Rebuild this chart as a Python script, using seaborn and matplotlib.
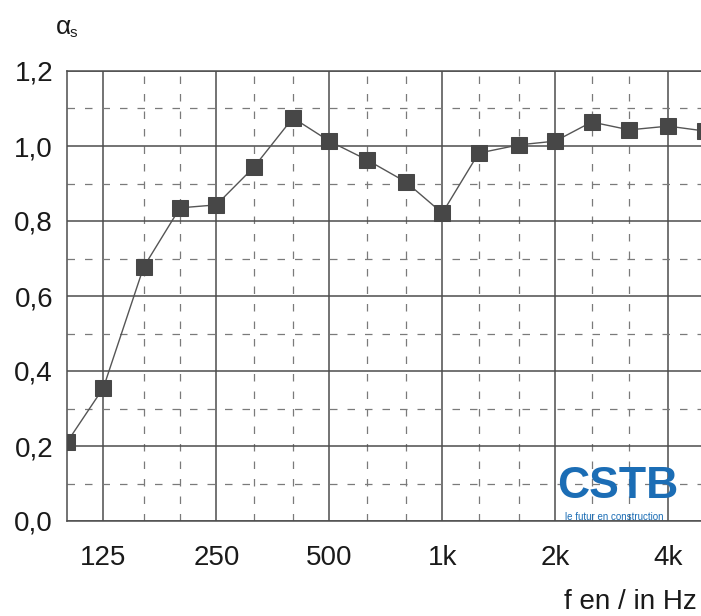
import matplotlib
matplotlib.use("Agg")
import matplotlib.pyplot as plt
import seaborn as sns
import pandas as pd
from matplotlib.ticker import FixedLocator, NullFormatter

freqs = [100, 125, 160, 200, 250, 315, 400, 500, 630, 800, 1000,
         1250, 1600, 2000, 2500, 3150, 4000, 5000]
alpha = [0.21, 0.355, 0.677, 0.835, 0.843, 0.944, 1.075, 1.013, 0.963, 0.904,
         0.821, 0.981, 1.003, 1.013, 1.064, 1.043, 1.053, 1.04]
major_x = [125, 250, 500, 1000, 2000, 4000]
major_x_labels = ["125", "250", "500", "1k", "2k", "4k"]
minor_x = [160, 200, 315, 400, 630, 800, 1250, 1600, 2500, 3150]
y_ticks = [0.0, 0.2, 0.4, 0.6, 0.8, 1.0, 1.2]
y_labels = ["0,0", "0,2", "0,4", "0,6", "0,8", "1,0", "1,2"]
y_minor = [0.1, 0.3, 0.5, 0.7, 0.9, 1.1]

sns.set_style("white")
plt.rcParams["font.family"] = ["Liberation Sans", "DejaVu Sans"]

df = pd.DataFrame({"f": freqs, "a": alpha})

fig = plt.figure(figsize=(7.01, 6.16), dpi=100)
ax = fig.add_axes([67 / 701, 95 / 616, 1 - 67 / 701, 450 / 616])

sns.lineplot(data=df, x="f", y="a", ax=ax, color="#555555", linewidth=1.0,
             marker="s", markersize=11, markerfacecolor="#474747",
             markeredgecolor="#474747", zorder=5)

ax.set_xscale("log")
ax.set_xlim(100, 4890)
ax.set_ylim(0, 1.2)

ax.xaxis.set_major_locator(FixedLocator(major_x))
ax.set_xticklabels(major_x_labels)
ax.xaxis.set_minor_locator(FixedLocator(minor_x))
ax.xaxis.set_minor_formatter(NullFormatter())
ax.set_yticks(y_ticks)
ax.set_yticklabels(y_labels)
ax.yaxis.set_minor_locator(FixedLocator(y_minor))

ax.grid(True, which="major", color="#4d4d4d", linewidth=1.1, linestyle="-")
ax.grid(True, which="minor", color="#7a7a7a", linewidth=0.9, linestyle=(0, (6, 8)))

ax.tick_params(axis="both", which="both", length=0)
ax.tick_params(axis="x", labelsize=20, pad=17, colors="#1a1a1a")
ax.tick_params(axis="y", labelsize=20, pad=10, colors="#1a1a1a")

for side in ["top", "left", "bottom"]:
    ax.spines[side].set_color("#4d4d4d")
    ax.spines[side].set_linewidth(1.1)
ax.spines["right"].set_visible(False)

ax.set_xlabel("")
ax.set_ylabel("")

fig.text(56 / 701, 1 - 27 / 616, "α", fontsize=19, ha="left", va="center",
         color="#1a1a1a")
fig.text(70 / 701, 1 - 33 / 616, "s", fontsize=11, ha="left", va="center",
         color="#1a1a1a")
fig.text(697 / 701, 1 - 602 / 616, "f en / in Hz", fontsize=20, ha="right",
         va="center", color="#1a1a1a")

# CSTB logo
fig.text(618 / 701, 1 - 487 / 616, "CSTB", fontsize=32, fontweight="bold",
         ha="center", va="center", color="#1b6db5")
fig.text(614 / 701, 1 - 517 / 616, "le futur en construction", fontsize=7,
         ha="center", va="center", color="#1b6db5")

fig.savefig("out.png", dpi=100)
